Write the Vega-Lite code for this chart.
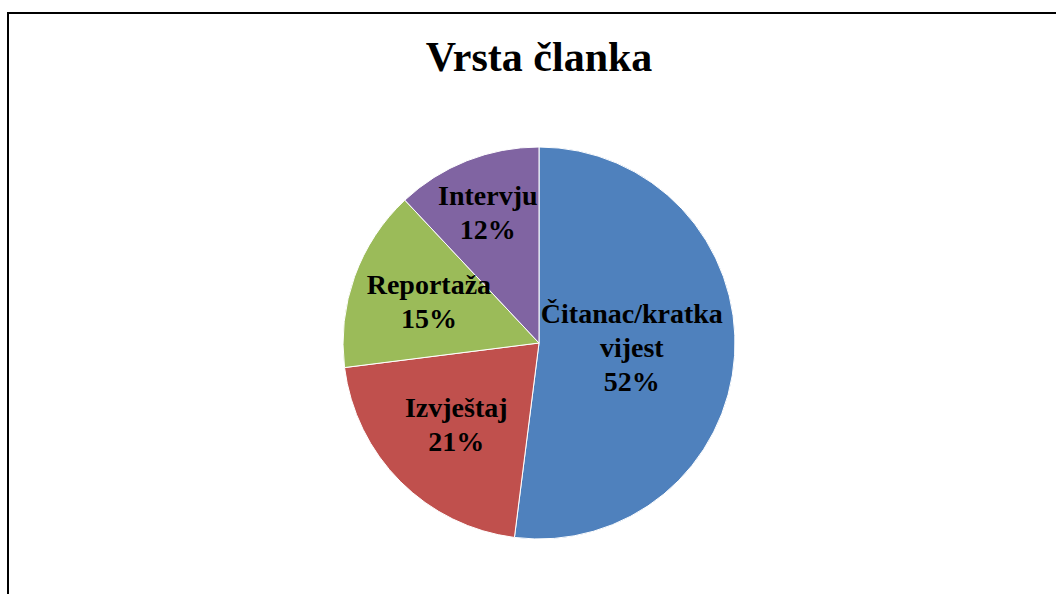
{
  "$schema": "https://vega.github.io/schema/vega-lite/v6.json",
  "width": 1054,
  "height": 587,
  "autosize": "none",
  "padding": {"left": 8, "top": 13, "right": -6, "bottom": -6},
  "background": "white",
  "view": {"stroke": "black", "strokeWidth": 2, "fill": "white"},
  "title": {
    "text": "Vrsta članka",
    "font": "Liberation Serif",
    "fontSize": 42,
    "fontWeight": "bold",
    "color": "black",
    "anchor": "middle",
    "offset": -67,
    "dx": 4
  },
  "data": {
    "values": [
      {"category": "Čitanac/kratka vijest", "value": 52},
      {"category": "Izvještaj", "value": 21},
      {"category": "Reportaža", "value": 15},
      {"category": "Intervju", "value": 12}
    ]
  },
  "transform": [
    {"stack": "value", "groupby": [], "as": ["v0", "v1"], "sort": [{"field": "value", "order": "descending"}]},
    {"calculate": "(datum.v0 + datum.v1) / 2", "as": "mid"},
    {"calculate": "replace(datum.category, ' ', '\\n') + '\\n' + datum.value + '%'", "as": "label"}
  ],
  "layer": [
    {
      "mark": {"type": "arc", "outerRadius": 196, "stroke": "white", "strokeWidth": 1, "xOffset": 4, "yOffset": 36.5},
      "encoding": {
        "theta": {"field": "v0", "type": "quantitative", "stack": null, "scale": {"domain": [0, 100]}},
        "theta2": {"field": "v1"},
        "color": {
          "field": "category",
          "type": "nominal",
          "scale": {
            "domain": ["Čitanac/kratka vijest", "Izvještaj", "Reportaža", "Intervju"],
            "range": ["#4F81BD", "#C0504D", "#9BBB59", "#8064A2"]
          },
          "legend": null
        }
      }
    },
    {
      "transform": [{"filter": "datum.category == 'Čitanac/kratka vijest'"}],
      "mark": {"type": "text", "radius": 93, "font": "Liberation Serif", "fontSize": 28, "fontWeight": "bold", "color": "black", "lineBreak": "\n", "lineHeight": 34, "align": "center", "baseline": "middle", "dy": -34, "xOffset": 4, "yOffset": 36.5},
      "encoding": {
        "theta": {"field": "mid", "type": "quantitative", "stack": null},
        "text": {"field": "label", "type": "nominal"}
      }
    },
    {
      "transform": [{"filter": "datum.category == 'Intervju'"}],
      "mark": {"type": "text", "radius": 139, "font": "Liberation Serif", "fontSize": 28, "fontWeight": "bold", "color": "black", "lineBreak": "\n", "lineHeight": 34, "align": "center", "baseline": "middle", "dy": -17, "xOffset": 4, "yOffset": 36.5},
      "encoding": {
        "theta": {"field": "mid", "type": "quantitative", "stack": null},
        "text": {"field": "label", "type": "nominal"}
      }
    },
    {
      "transform": [{"filter": "datum.category == 'Izvještaj' || datum.category == 'Reportaža'"}],
      "mark": {"type": "text", "radius": 117, "font": "Liberation Serif", "fontSize": 28, "fontWeight": "bold", "color": "black", "lineBreak": "\n", "lineHeight": 34, "align": "center", "baseline": "middle", "dy": -17, "xOffset": 4, "yOffset": 36.5},
      "encoding": {
        "theta": {"field": "mid", "type": "quantitative", "stack": null},
        "text": {"field": "label", "type": "nominal"}
      }
    }
  ]
}
